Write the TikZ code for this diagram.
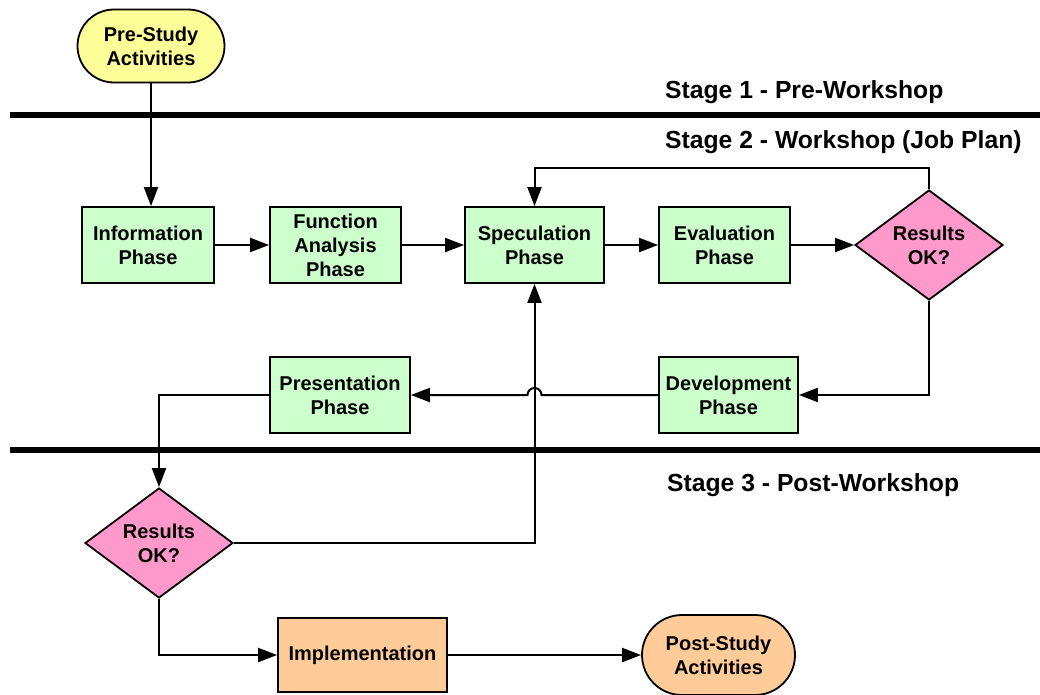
\documentclass[tikz,border=0pt]{standalone}
\usepackage{fontspec}
\setmainfont{Liberation Sans}
\usetikzlibrary{arrows.meta,shapes.geometric,shapes.misc,calc}
\definecolor{phasegreen}{HTML}{CCFFCC}
\definecolor{startyellow}{HTML}{FFFF99}
\definecolor{decpink}{HTML}{FF99CC}
\definecolor{endorange}{HTML}{FFCC99}
\begin{document}
\begin{tikzpicture}[x=1pt,y=1pt,
  every node/.style={font=\bfseries\fontsize{20}{24}\selectfont, align=center, inner sep=0pt},
  box/.style={draw, line width=1.8pt, minimum height=76pt},
  phase/.style={box, fill=phasegreen},
  term/.style={draw, line width=1.8pt, rounded rectangle, rounded rectangle arc length=180},
  decision/.style={draw, line width=1.8pt, diamond, fill=decpink, minimum width=148pt, minimum height=110pt, aspect=1.35},
  flow/.style={line width=2pt, -{Triangle[length=19pt,width=14pt]}},
  stageline/.style={line width=6pt},
  stagetext/.style={font=\bfseries\fontsize{24.7}{28}\selectfont, anchor=base west}
]
\useasboundingbox (0,0) rectangle (1040,-694);

% stage separators and titles
\coordinate (s1l) at (10,-115);  \coordinate (s1r) at (1040,-115);
\coordinate (s2l) at (10,-450);  \coordinate (s2r) at (1040,-450);
\draw[stageline] (s1l) -- (s1r);
\draw[stageline] (s2l) -- (s2r);
\node[stagetext] (st1) at (665,-98) {Stage 1 - Pre-Workshop};
\node[stagetext] (st2) at (665,-148) {Stage 2 - Workshop (Job Plan)};
\node[stagetext] (st3) at (667,-491) {Stage 3 - Post-Workshop};

% nodes
\node[term, fill=startyellow, minimum width=147pt, minimum height=73pt] (pre) at (151,-46) {Pre-Study\\Activities};
\node[phase, minimum width=132pt] (info) at (148,-245) {Information\\Phase};
\node[phase, minimum width=131pt] (func) at (335.5,-245) {Function\\Analysis\\Phase};
\node[phase, minimum width=139pt] (spec) at (534.5,-245) {Speculation\\Phase};
\node[phase, minimum width=131pt] (eval) at (724.5,-245) {Evaluation\\Phase};
\node[decision] (res1) at (929,-245) {Results\\OK?};
\node[phase, minimum width=139pt] (dev) at (728.5,-395) {Development\\Phase};
\node[phase, minimum width=140pt] (pres) at (340,-395) {Presentation\\Phase};
\node[decision] (res2) at (159,-543) {Results\\OK?};
\node[box, fill=endorange, minimum width=169pt, minimum height=74pt] (impl) at (362.5,-655) {Implementation};
\node[term, fill=endorange, minimum width=153pt, minimum height=80pt] (post) at (718.5,-655) {Post-Study\\Activities};

% helper points
\coordinate (loopR) at (929,-168);
\coordinate (loopL) at (534.5,-168);
\coordinate (jump) at (spec.south |- dev.west);

% connectors
\draw[flow] (pre.south) -- (pre.south |- info.north);
\draw[flow] (info.east) -- (func.west);
\draw[flow] (func.east) -- (spec.west);
\draw[flow] (spec.east) -- (eval.west);
\draw[flow] (eval.east) -- (res1.west);
\draw[flow] (res1.north) -- (loopR) -- (loopL) -- (spec.north);
\draw[flow] (res1.south) |- (dev.east);
\draw[flow] (dev.west) -- ($(jump)+(7,0)$) arc[start angle=0, end angle=180, radius=7] -- (pres.east);
\draw[flow] (pres.west) -| (res2.north);
\draw[flow] (res2.east) -| (spec.south);
\draw[flow] (res2.south) |- (impl.west);
\draw[flow] (impl.east) -- (post.west);
\end{tikzpicture}
\end{document}
